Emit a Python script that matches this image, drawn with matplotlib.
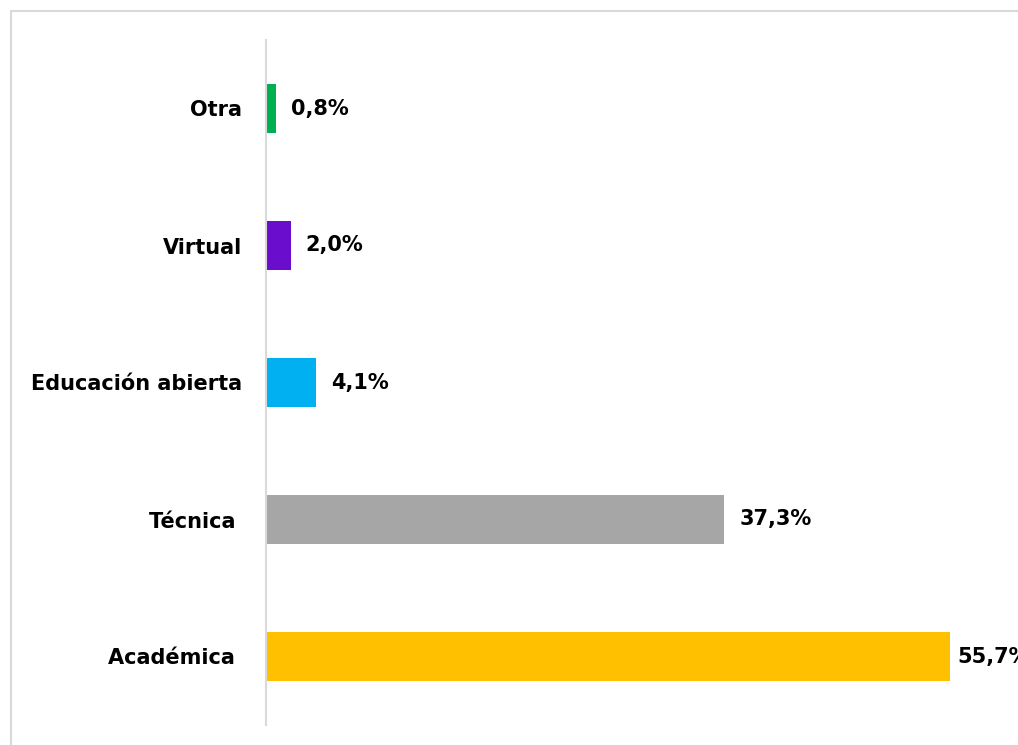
import matplotlib.pyplot as plt
from matplotlib.patches import Rectangle

# datos
categorias = ["Académica ", "Técnica ", "Educación abierta", "Virtual", "Otra"]
valores = [55.7, 37.3, 4.1, 2.0, 0.8]
etiquetas = ["55,7%", "37,3%", "4,1%", "2,0%", "0,8%"]
colores = ["#ffc000", "#a6a6a6", "#00b0f0", "#6a0dcc", "#00b050"]

plt.rcParams['font.family'] = ['DejaVu Sans']

fig = plt.figure(figsize=(10.18, 7.45), dpi=100)
ax = fig.add_axes([266 / 1018, 20 / 745, 752 / 1018, 685 / 745])

pos = range(len(categorias))
ax.barh(pos, valores, height=0.36, color=colores)

for i, (v, t) in enumerate(zip(valores, etiquetas)):
    # la etiqueta de la barra más larga queda pegada al borde, como en Excel
    off = 7 if v == max(valores) else 15
    ax.annotate(t, (v, i), xytext=(off, 0), textcoords='offset pixels',
                va='center', ha='left', fontsize=15, fontweight='bold',
                color='black', annotation_clip=False)

ax.set_xlim(0, 61.2)
ax.set_ylim(-0.5, 4.5)
ax.set_yticks(list(pos))
ax.set_yticklabels(categorias, fontsize=15, fontweight='bold')
ax.tick_params(axis='y', length=0, pad=17)
ax.set_xticks([])

for s in ['top', 'right', 'bottom']:
    ax.spines[s].set_visible(False)
ax.spines['left'].set_color('#d9d9d9')
ax.spines['left'].set_linewidth(1.5)

# marco del gráfico (recortado a la derecha y abajo)
fig.patches.append(Rectangle((11 / 1018, -0.1), 1.2, (734 / 745) + 0.1,
                             transform=fig.transFigure, fill=False,
                             edgecolor='#d9d9d9', linewidth=1.5))

fig.savefig("out.png", dpi=100)
